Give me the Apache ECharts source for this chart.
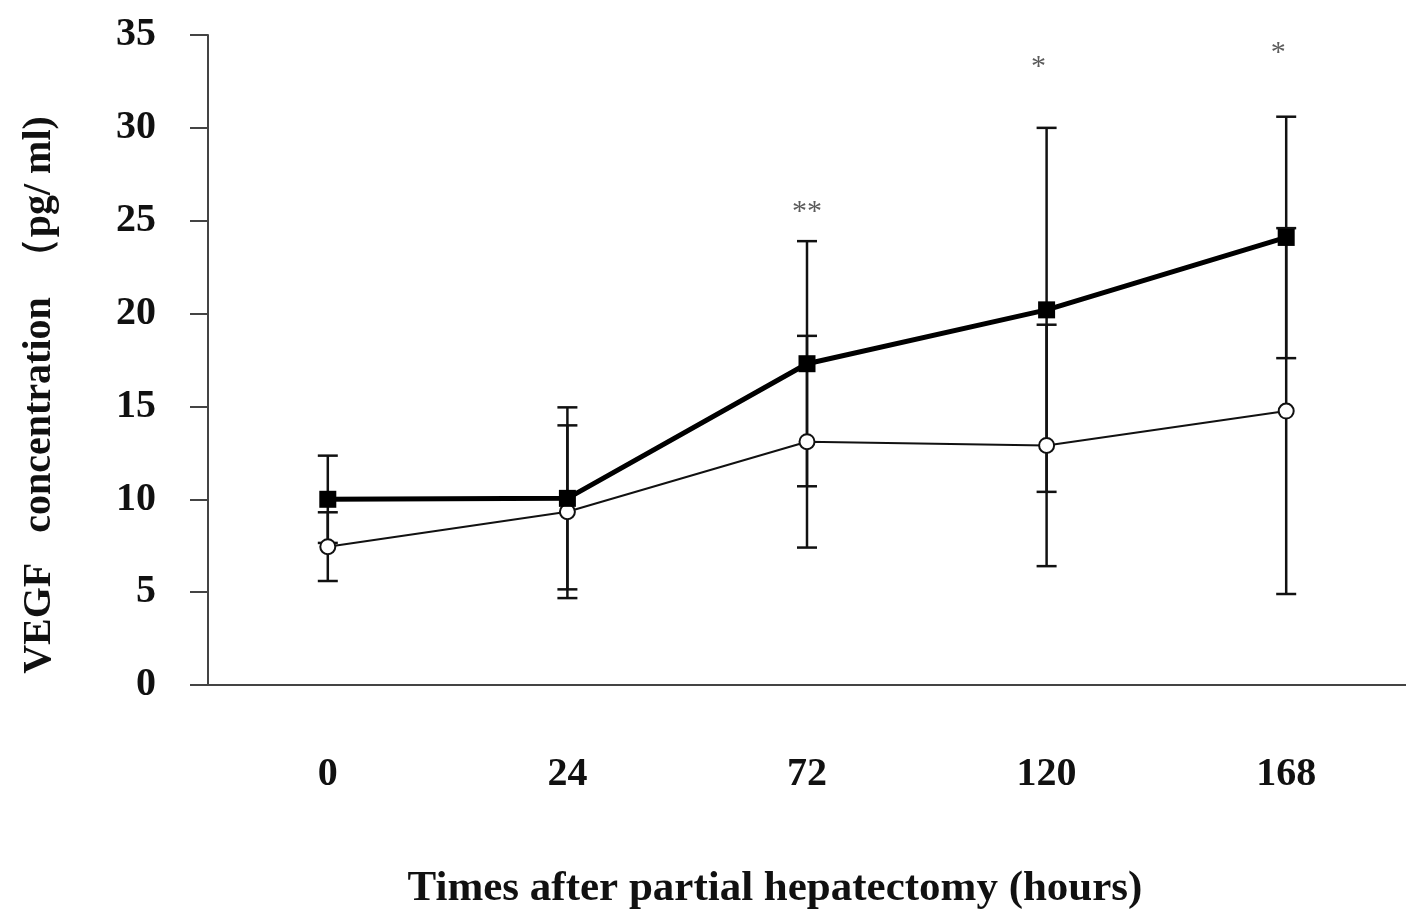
<!DOCTYPE html>
<html>
<head>
<meta charset="utf-8">
<script src="https://cdn.jsdelivr.net/npm/echarts@6/dist/echarts.min.js"></script>
<style>html,body{margin:0;padding:0;background:#fff;}#c{width:1406px;height:914px;}</style>
</head>
<body>
<div id="c"></div>
<script>
// ---- data ----
const categories = ['0', '24', '72', '120', '168'];
const filledMean = [10.0, 10.05, 17.3, 20.2, 24.1];
const filledSD   = [2.35, 4.9, 6.6, 9.8, 6.5];
const openMean   = [7.45, 9.33, 13.1, 12.9, 14.75];
const openSD     = [1.85, 4.65, 5.7, 6.5, 9.85];
const sigIndex   = [2, 3, 4];
const sigY       = [25.45, 33.25, 34.05];
const sigText    = ['**', '*', '*'];
const yTicks     = { min: 0, max: 35, interval: 5 };

const FONT = '"Liberation Serif", "DejaVu Serif", serif';

function errData(mean, sd) {
  return mean.map((m, i) => [i, m - sd[i], m + sd[i]]);
}
function renderErr(params, api) {
  const x = api.value(0), lo = api.value(1), hi = api.value(2);
  const pHi = api.coord([x, hi]);
  const pLo = api.coord([x, lo]);
  const w = 10;
  const st = { stroke: '#111', lineWidth: 2.5 };
  return {
    type: 'group',
    children: [
      { type: 'line', shape: { x1: pHi[0], y1: pHi[1], x2: pLo[0], y2: pLo[1] }, style: st },
      { type: 'line', shape: { x1: pHi[0] - w, y1: pHi[1], x2: pHi[0] + w, y2: pHi[1] }, style: st },
      { type: 'line', shape: { x1: pLo[0] - w, y1: pLo[1], x2: pLo[0] + w, y2: pLo[1] }, style: st }
    ]
  };
}

const chart = echarts.init(document.getElementById('c'));
chart.setOption({
  backgroundColor: '#fff',
  animation: false,
  grid: { left: 208, right: 0, top: 35, bottom: 229, containLabel: false, outerBoundsMode: 'none' },
  xAxis: {
    type: 'category',
    data: categories,
    boundaryGap: true,
    axisLine: { show: true, lineStyle: { color: '#444', width: 2 } },
    axisTick: { show: false },
    axisLabel: { fontFamily: FONT, fontWeight: 'bold', fontSize: 40, color: '#111', margin: 70 },
    name: 'Times after partial hepatectomy (hours)',
    nameLocation: 'middle',
    nameGap: 182,
    nameTextStyle: { fontFamily: FONT, fontWeight: 'bold', fontSize: 43, color: '#111', padding: [0, 64, 0, 0] },
    splitLine: { show: false }
  },
  yAxis: {
    type: 'value',
    min: yTicks.min, max: yTicks.max, interval: yTicks.interval,
    axisLine: { show: true, lineStyle: { color: '#444', width: 2 } },
    axisTick: { show: true, inside: false, length: 18, lineStyle: { color: '#444', width: 2 } },
    axisLabel: { fontFamily: FONT, fontWeight: 'bold', fontSize: 40, color: '#111', margin: 52 },
    splitLine: { show: false },
    name: 'VEGF   concentration  （pg/ ml)',
    nameLocation: 'middle',
    nameGap: 148,
    nameRotate: 90,
    nameTextStyle: { fontFamily: FONT, fontWeight: 'bold', fontSize: 40, color: '#111', padding: [0, 70, 0, 0] }
  },
  series: [
    {
      type: 'custom', name: 'err-open', renderItem: renderErr,
      data: errData(openMean, openSD), encode: { x: 0, y: [1, 2] }, z: 1, silent: true
    },
    {
      type: 'custom', name: 'err-filled', renderItem: renderErr,
      data: errData(filledMean, filledSD), encode: { x: 0, y: [1, 2] }, z: 1, silent: true
    },
    {
      type: 'line', name: 'open', data: openMean, z: 3,
      symbol: 'circle', symbolSize: 15, showAllSymbol: true,
      lineStyle: { color: '#111', width: 2 },
      itemStyle: { color: '#fff', borderColor: '#111', borderWidth: 2 }
    },
    {
      type: 'line', name: 'filled', data: filledMean, z: 4,
      symbol: 'rect', symbolSize: 17, showAllSymbol: true,
      lineStyle: { color: '#000', width: 5 },
      itemStyle: { color: '#000', borderColor: '#000', borderWidth: 0 }
    },
    {
      type: 'scatter', name: 'sig', z: 5, symbolSize: 1,
      itemStyle: { color: 'rgba(0,0,0,0)' },
      data: sigIndex.map((x, i) => ({
        value: [x, sigY[i]],
        label: { formatter: sigText[i], offset: [sigText[i] === '*' ? -8 : 0, 0] }
      })),
      label: { show: true, position: 'inside', fontFamily: FONT, fontSize: 30, color: '#333' }
    }
  ]
});
</script>
</body>
</html>
